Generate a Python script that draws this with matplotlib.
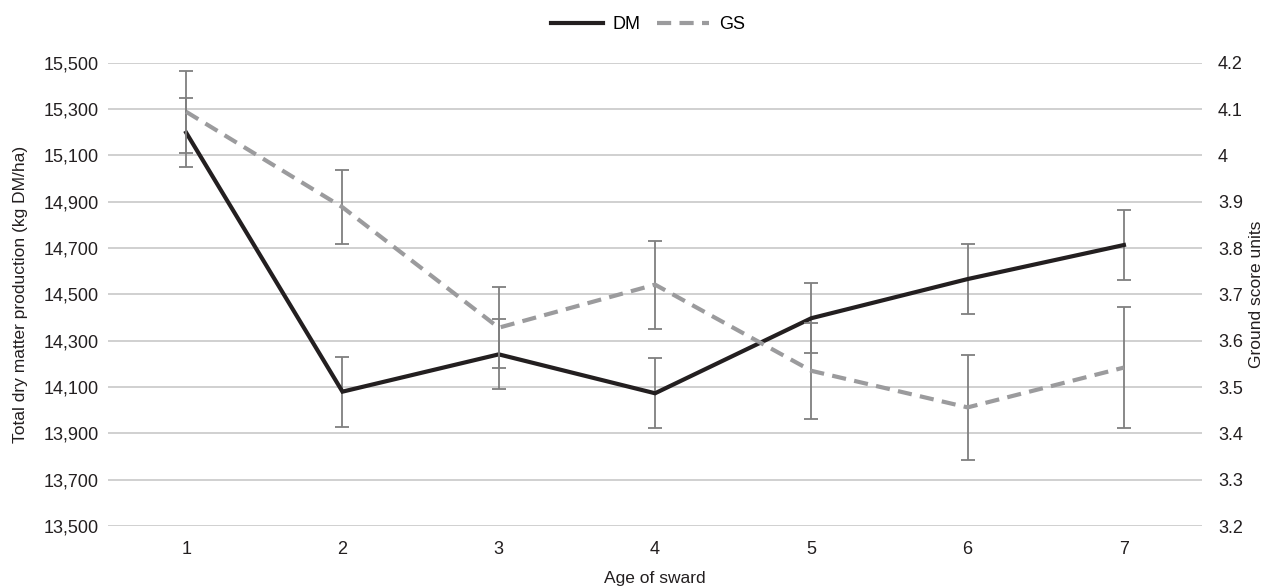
import numpy as np
import matplotlib.pyplot as plt
from matplotlib.ticker import FuncFormatter

plt.rcParams['font.family'] = ['Liberation Sans', 'DejaVu Sans']

age = [1, 2, 3, 4, 5, 6, 7]
dm = [15198, 14080, 14241, 14073, 14397, 14566, 14713]
dm_err = [150, 151, 151, 151, 151, 151, 151]
gs = [4.094, 3.888, 3.628, 3.721, 3.535, 3.456, 3.542]
gs_err = [0.088, 0.080, 0.087, 0.095, 0.104, 0.114, 0.130]

dm_ticks = [13500, 13700, 13900, 14100, 14300, 14500, 14700, 14900, 15100, 15300, 15500]
gs_ticks = [3.2, 3.3, 3.4, 3.5, 3.6, 3.7, 3.8, 3.9, 4.0, 4.1, 4.2]

fig = plt.figure(figsize=(12.68, 5.88), dpi=100)
ax = fig.add_axes([0.0852, 0.1054, 0.8628, 0.788])
ax2 = ax.twinx()

err_color = "#7f7f7f"
ax.errorbar(age, dm, yerr=dm_err, fmt="none", ecolor=err_color, elinewidth=1.3,
            capsize=5, capthick=1.3, zorder=3)
ax2.errorbar(age, gs, yerr=gs_err, fmt="none", ecolor=err_color, elinewidth=1.3,
             capsize=5, capthick=1.3, zorder=3)
l1, = ax.plot(age, dm, color="#231f20", lw=3.0, solid_joinstyle="miter", zorder=4, label="DM")
l2, = ax2.plot(age, gs, color="#9b9b9d", lw=3.0, dashes=(3.4, 2.0), zorder=4, label="GS")

ax.set_xlim(0.5, 7.5)
ax.set_ylim(13500, 15500)
ax2.set_ylim(3.2, 4.2)
ax.set_yticks(dm_ticks)
ax2.set_yticks(gs_ticks)
ax.set_xticks(age)
ax.yaxis.set_major_formatter(FuncFormatter(lambda v, p: f"{int(v):,}"))
ax2.yaxis.set_major_formatter(FuncFormatter(lambda v, p: f"{v:g}"))

ax.grid(axis="y", color="#c8c8c8", lw=1.2)
ax.set_axisbelow(True)
for a in (ax, ax2):
    for s in a.spines.values():
        s.set_visible(False)
    a.tick_params(length=0, labelsize=13, colors="#231f20")
ax.tick_params(axis="y", pad=6.5)
ax2.tick_params(axis="y", pad=11.5)
ax.tick_params(axis="x", pad=11)

ax.set_xlabel("Age of sward", fontsize=12.5, color="#231f20", labelpad=9)
ax.set_ylabel("Total dry matter production (kg DM/ha)", fontsize=12.5, color="#231f20", labelpad=11)
ax2.set_ylabel("Ground score units", fontsize=12.5, color="#231f20", labelpad=4)

fig.legend(handles=[l1, l2], loc="center", bbox_to_anchor=(0.511, 0.958), ncol=2,
           frameon=False, fontsize=13, handlelength=2.9, columnspacing=0.9,
           handletextpad=0.55)

fig.savefig("out.png", dpi=100)
